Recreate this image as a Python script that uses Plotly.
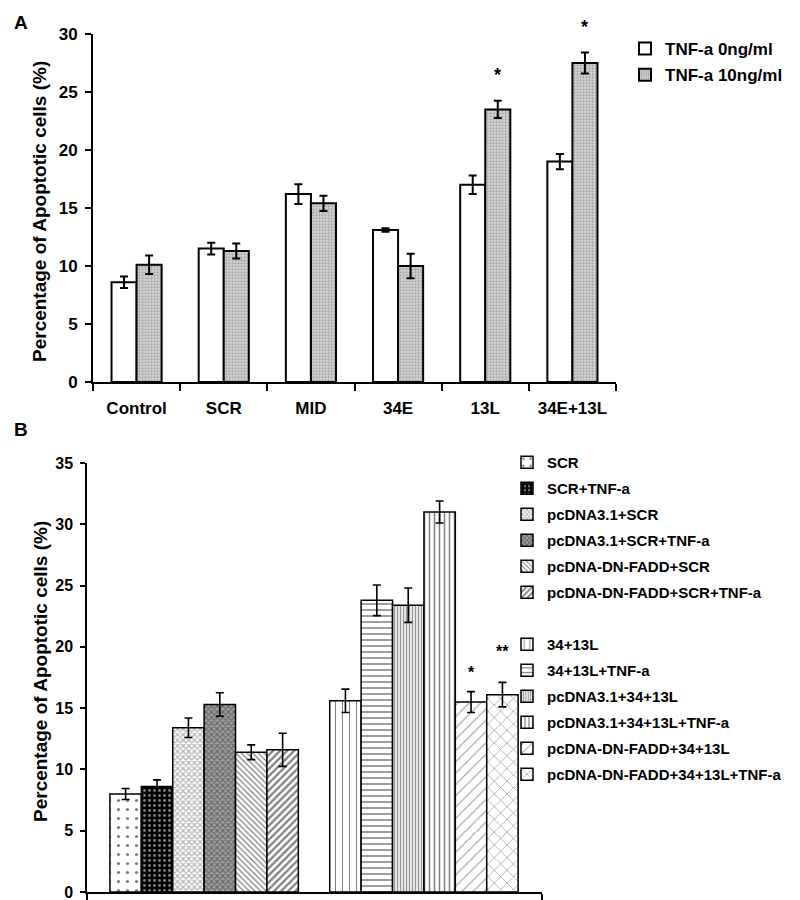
import plotly.graph_objects as go

# ---------------- Data ----------------
# Panel A
categories_a = ["Control", "SCR", "MID", "34E", "13L", "34E+13L"]
tnf0_vals = [8.6, 11.5, 16.2, 13.1, 17.0, 19.0]
tnf0_err = [0.5, 0.5, 0.85, 0.15, 0.8, 0.65]
tnf10_vals = [10.1, 11.3, 15.4, 10.0, 23.5, 27.5]
tnf10_err = [0.8, 0.65, 0.65, 1.05, 0.75, 0.9]
series_a_names = ["TNF-a 0ng/ml", "TNF-a 10ng/ml"]
stars_a = ["", "", "", "", "*", "*"]

# Panel B
names_b1 = ["SCR", "SCR+TNF-a", "pcDNA3.1+SCR", "pcDNA3.1+SCR+TNF-a",
            "pcDNA-DN-FADD+SCR", "pcDNA-DN-FADD+SCR+TNF-a"]
vals_b1 = [8.0, 8.6, 13.4, 15.3, 11.4, 11.6]
err_b1 = [0.45, 0.55, 0.8, 0.95, 0.6, 1.35]
names_b2 = ["34+13L", "34+13L+TNF-a", "pcDNA3.1+34+13L", "pcDNA3.1+34+13L+TNF-a",
            "pcDNA-DN-FADD+34+13L", "pcDNA-DN-FADD+34+13L+TNF-a"]
vals_b2 = [15.6, 23.8, 23.4, 31.0, 15.5, 16.1]
err_b2 = [0.95, 1.25, 1.4, 0.9, 0.85, 1.0]
stars_b2 = ["", "", "", "", "*", "**"]

ytitle = "Percentage of Apoptotic cells (%)"

# ---------------- Styles ----------------
FONT = "Liberation Sans, Arial, sans-serif"
W, H = 800, 900
bargap_a = 0.425
star_shift_b2 = [0, 0, 0, 0, 9, 20]

style_a = [
    dict(color="white", pattern=None),
    dict(color="#c4c4c4", pattern=dict(shape=".", fgcolor="#7a7a7a", bgcolor="#d6d6d6",
                                       size=3, solidity=0.45)),
]

style_b1 = [
    dict(shape=".", fgcolor="#000000", bgcolor="#ffffff", size=9, solidity=0.1),
    dict(shape=".", fgcolor="#ffffff", bgcolor="#000000", size=5, solidity=0.25),
    dict(shape="x", fgcolor="#6a6a6a", bgcolor="#ffffff", size=4, solidity=0.5),
    dict(shape="x", fgcolor="#303030", bgcolor="#a0a0a0", size=4, solidity=0.5),
    dict(shape="\\", fgcolor="#000000", bgcolor="#ffffff", size=4, solidity=0.3),
    dict(shape="/", fgcolor="#000000", bgcolor="#ffffff", size=5, solidity=0.45),
]
style_b2 = [
    dict(shape="|", fgcolor="#000000", bgcolor="#ffffff", size=7, solidity=0.15),
    dict(shape="-", fgcolor="#000000", bgcolor="#ffffff", size=6, solidity=0.25),
    dict(shape="|", fgcolor="#303030", bgcolor="#ffffff", size=3, solidity=0.5),
    dict(shape="|", fgcolor="#000000", bgcolor="#ffffff", size=5, solidity=0.3),
    dict(shape="/", fgcolor="#555555", bgcolor="#ffffff", size=8, solidity=0.15),
    dict(shape="x", fgcolor="#000000", bgcolor="#ffffff", size=9, solidity=0.12),
]

fig = go.Figure()

# ---------------- Panel A ----------------
for name, vals, errs, st in zip(series_a_names, [tnf0_vals, tnf10_vals],
                                [tnf0_err, tnf10_err], style_a):
    marker = dict(color=st["color"], line=dict(color="black", width=2))
    if st["pattern"]:
        marker["pattern"] = st["pattern"]
    fig.add_trace(go.Bar(
        x=categories_a, y=vals, name=name, marker=marker,
        error_y=dict(type="data", array=errs, color="black", thickness=2, width=4),
        xaxis="x", yaxis="y", legend="legend", legendgroup=name,
    ))

bar_w_a = (1 - bargap_a) / 2
for i, s in enumerate(stars_a):
    if s:
        fig.add_annotation(x=i + bar_w_a / 2, y=tnf10_vals[i] + tnf10_err[i],
                           xref="x", yref="y", text=s, showarrow=False,
                           xanchor="center", yanchor="bottom", yshift=14,
                           font=dict(size=18))

# ---------------- Panel B ----------------
names_b = names_b1 + names_b2
vals_b = vals_b1 + vals_b2
err_b = err_b1 + err_b2
styles_b = style_b1 + style_b2
pos_b = list(range(len(names_b1))) + [len(names_b1) + 1 + i for i in range(len(names_b2))]

for k, (name, v, e, st, p) in enumerate(zip(names_b, vals_b, err_b, styles_b, pos_b)):
    if k == len(names_b1):
        # spacer entry in the legend between the two groups
        fig.add_trace(go.Bar(x=[None], y=[None], name=" ", showlegend=True,
                             marker=dict(color="rgba(0,0,0,0)", line=dict(width=0)),
                             xaxis="x2", yaxis="y2", legend="legend2",
                             legendgroup="spacer", hoverinfo="skip"))
    fig.add_trace(go.Bar(
        x=[p], y=[v], name=name, width=1, offset=-0.5,
        marker=dict(color=st["bgcolor"], pattern=st, line=dict(color="black", width=1.5)),
        error_y=dict(type="data", array=[e], color="black", thickness=1.6, width=4),
        xaxis="x2", yaxis="y2", legend="legend2", legendgroup=name,
    ))

for i, s in enumerate(stars_b2):
    if s:
        p = pos_b[len(names_b1) + i]
        fig.add_annotation(x=p, y=vals_b2[i] + err_b2[i], xref="x2", yref="y2",
                           text=s, showarrow=False, xanchor="center",
                           yanchor="bottom", yshift=star_shift_b2[i],
                           font=dict(size=16))

# ---------------- Layout ----------------
def px_x(v):
    return v / W

def px_y(v):
    return 1 - v / H

xb_lo = pos_b[0] - 0.5 - 0.73
xb_hi = pos_b[-1] + 0.5 + 0.76

fig.update_layout(
    width=W, height=H,
    margin=dict(l=0, r=0, t=0, b=0, autoexpand=False),
    paper_bgcolor="white", plot_bgcolor="white",
    font=dict(family=FONT, size=17, color="black", weight="bold"),
    barmode="group", bargap=bargap_a, bargroupgap=0,
    showlegend=True,
    xaxis=dict(domain=[px_x(93), px_x(616)], anchor="y", type="category",
               tickson="boundaries", ticks="outside", ticklen=7, tickwidth=2,
               tickcolor="black", showline=True, linecolor="black", linewidth=2,
               showgrid=False, tickfont=dict(size=17), ticklabelstandoff=10),
    yaxis=dict(domain=[px_y(382), px_y(34)], anchor="x", range=[0, 30], dtick=5,
               ticks="outside", ticklen=6, tickwidth=2, tickcolor="black",
               showline=True, linecolor="black", linewidth=2, showgrid=False,
               zeroline=False, tickfont=dict(size=17), ticklabelstandoff=4,
               ticklabeloverflow="allow"),
    xaxis2=dict(domain=[px_x(87), px_x(542)], anchor="y2", range=[xb_lo, xb_hi],
                tickvals=[xb_lo, xb_hi], ticktext=["", ""], ticks="outside",
                ticklen=6, tickwidth=1.5, tickcolor="black", showline=True,
                linecolor="black", linewidth=1.5, showgrid=False, zeroline=False),
    yaxis2=dict(domain=[px_y(892), px_y(463)], anchor="x2", range=[0, 35], dtick=5,
                ticks="outside", ticklen=5, tickwidth=1.5, tickcolor="black",
                showline=True, linecolor="black", linewidth=1.5, showgrid=False,
                zeroline=False, tickfont=dict(size=16), ticklabelstandoff=4,
                ticklabeloverflow="allow"),
    legend=dict(x=px_x(625), y=px_y(31), xanchor="left", yanchor="top",
                traceorder="grouped", tracegroupgap=1, font=dict(size=17),
                bgcolor="rgba(0,0,0,0)", borderwidth=0),
    legend2=dict(x=px_x(507), y=px_y(446), xanchor="left", yanchor="top",
                 traceorder="grouped", tracegroupgap=3.5, font=dict(size=15),
                 bgcolor="rgba(0,0,0,0)", borderwidth=0),
)

# Axis titles and panel labels
fig.add_annotation(x=px_x(40), y=px_y(212), xref="paper", yref="paper", text=ytitle,
                   textangle=-90, showarrow=False, xanchor="center", yanchor="middle",
                   font=dict(size=19))
fig.add_annotation(x=px_x(40), y=px_y(672), xref="paper", yref="paper", text=ytitle,
                   textangle=-90, showarrow=False, xanchor="center", yanchor="middle",
                   font=dict(size=19))
fig.add_annotation(x=px_x(21), y=px_y(22), xref="paper", yref="paper", text="A",
                   showarrow=False, xanchor="center", yanchor="middle", font=dict(size=19))
fig.add_annotation(x=px_x(21), y=px_y(429), xref="paper", yref="paper", text="B",
                   showarrow=False, xanchor="center", yanchor="middle", font=dict(size=19))

fig.write_html("out.html", config={"displayModeBar": False},
               post_script="document.body.style.margin='0';")
